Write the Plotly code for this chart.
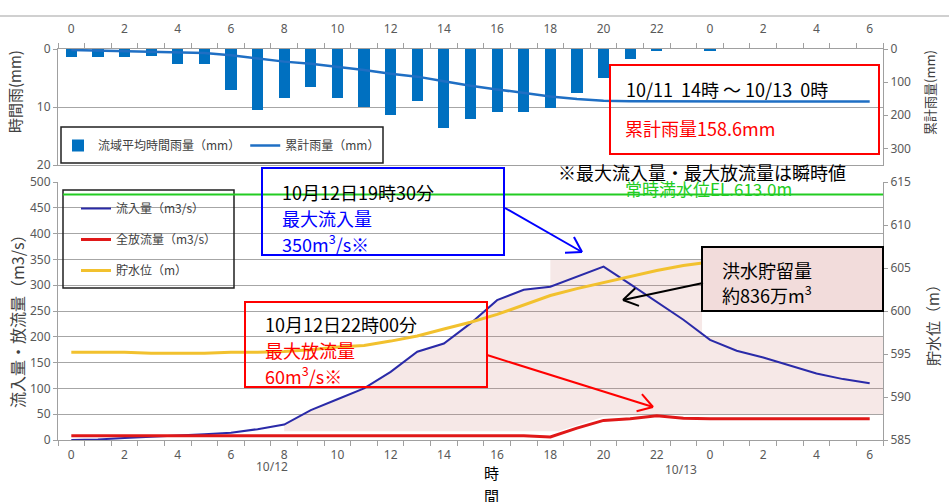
import math
import plotly.graph_objects as go

# ---------------- data ----------------
hours = list(range(31))
hour_labels = ["0", "2", "4", "6", "8", "10", "12", "14", "16", "18", "20", "22", "0", "2", "4", "6"]
label_positions = hours[::2]

rain_mm = [1.3, 1.4, 1.3, 1.2, 2.5, 2.6, 7.0, 10.6, 8.5, 6.5, 8.5, 10.0, 11.4, 8.9, 13.7, 12.0,
           10.8, 10.8, 10.1, 7.5, 5.0, 1.8, 0.3, 0.0, 0.3, 0.0, 0.0, 0.0, 0.0, 0.0, 0.0]
cum_rain_mm = [3, 4.4, 5.7, 6.9, 9.4, 12, 19, 29.6, 38.1, 44.6, 53.1, 63.1, 74.5, 83.4, 97.1, 111,
               122, 133, 143, 150.5, 156, 157.8, 158.3, 158.3, 158.6, 158.6, 158.6, 158.6, 158.6, 158.6, 158.6]

inflow = [0, 1, 4, 6, 9, 11, 14, 21, 30, 58, 79, 100, 132, 171, 187, 226,
          271, 291, 297, 316, 336, 302, 268, 233, 194, 173, 160, 145, 129, 118, 110]
outflow = [8, 8, 8, 8, 8, 8, 8, 8, 8, 8, 8, 8, 8, 8, 8, 8,
           8, 8, 6, 23, 38, 41, 47, 42, 41, 41, 41, 41, 41, 41, 41]
water_level = [595.2, 595.2, 595.2, 595.1, 595.1, 595.1, 595.2, 595.2, 595.3, 595.5, 595.8, 596.0, 596.5, 597.1,
               597.9, 598.7, 599.6, 600.7, 601.8, 602.6, 603.3, 604.0, 604.7, 605.3, 605.7, 605.8, 605.9,
               606.0, 606.1, 606.2, 606.3]

# outline of the shaded flood-storage area (hour, m3/s)
storage_x = [8.0, 8.0, 9, 10, 11, 12, 13, 14, 15, 16, 17, 18, 18, 23.7, 23.7, 30.5, 30.5, 22, 20, 18.3, 8.0]
storage_y = [17, 30, 58, 79, 100, 132, 171, 187, 226, 271, 291, 297, 349, 349, 200, 200, 50, 50, 45, 17, 17]

# ---------------- geometry helpers (pixel -> paper) ----------------
L, R, T, B = 58, 883, 49, 440
W, H = 949, 502


def fx(px):
    return (px - L) / (R - L)


def fy(py):
    return (B - py) / (B - T)


JP = "Noto Sans CJK JP"
NUM = "Noto Sans"
GRID = "#a6a6a6"
AXC = "#a0a0a0"
TICKC = "#595959"

fig = go.Figure()

# storage shading
fig.add_trace(go.Scatter(x=storage_x, y=storage_y, mode="lines", fill="toself",
                         fillcolor="rgba(200,120,110,0.17)", line=dict(width=0),
                         showlegend=False, hoverinfo="skip", xaxis="x", yaxis="y"))
fig.add_trace(go.Scatter(x=hours, y=inflow, mode="lines", name="流入量（m3/s）",
                         line=dict(color="#2a2aa8", width=2), xaxis="x", yaxis="y",
                         legend="legend2", legendgroup="a"))
fig.add_trace(go.Scatter(x=hours, y=outflow, mode="lines", name="全放流量（m3/s）",
                         line=dict(color="#e01818", width=3), xaxis="x", yaxis="y",
                         legend="legend2", legendgroup="b"))
fig.add_trace(go.Scatter(x=hours, y=water_level, mode="lines", name="貯水位（m）",
                         line=dict(color="#f2c12e", width=3), xaxis="x", yaxis="y2",
                         legend="legend2", legendgroup="c"))

# rainfall
fig.add_trace(go.Bar(x=hours, y=rain_mm, name="流域平均時間雨量（mm）", width=0.42,
                     marker=dict(color="#0070c0", line=dict(width=0)),
                     xaxis="x2", yaxis="y3", legend="legend"))
fig.add_trace(go.Scatter(x=hours, y=cum_rain_mm, mode="lines", name="累計雨量（mm）",
                         line=dict(color="#1f6fc4", width=2.5), xaxis="x2", yaxis="y4",
                         legend="legend"))

boundaries = [h - 0.5 for h in range(32)]
xcommon = dict(range=[-0.5, 30.5], tickmode="array", tickvals=label_positions, ticktext=hour_labels,
               ticks="", showline=True, linecolor=AXC, linewidth=1, showgrid=False, zeroline=False,
               tickfont=dict(family=NUM, size=12, color=TICKC),
               minor=dict(tickmode="array", tickvals=boundaries, ticks="outside", ticklen=5,
                          tickcolor=AXC, showgrid=False))

top_dom = [fy(165), 1.0]
bot_dom = [0.0, fy(182)]

fig.update_layout(
    width=W, height=H,
    margin=dict(l=L, r=W - R, t=T, b=H - B, pad=0),
    paper_bgcolor="white", plot_bgcolor="rgba(0,0,0,0)",
    bargap=0,
    xaxis=dict(domain=[0, 1], anchor="y", ticklabelstandoff=4, **xcommon),
    xaxis2=dict(domain=[0, 1], anchor="y3", side="top", mirror=True, ticklabelstandoff=10, **xcommon),
    yaxis=dict(domain=bot_dom, range=[0, 500], tickmode="array", tickvals=list(range(0, 501, 50)),
               ticks="outside", ticklen=4, tickcolor=AXC, showline=True, linecolor=AXC,
               showgrid=True, gridcolor=GRID, gridwidth=1, zeroline=False,
               tickfont=dict(family=NUM, size=12, color=TICKC)),
    yaxis2=dict(overlaying="y", side="right", anchor="x", range=[585, 615], tickmode="array",
                tickvals=[585, 590, 595, 600, 605, 610, 615], ticks="outside", ticklen=4, tickcolor=AXC,
                showline=True, linecolor=AXC, showgrid=False, zeroline=False,
                tickfont=dict(family=NUM, size=12, color=TICKC)),
    yaxis3=dict(domain=top_dom, anchor="x2", range=[20, 0], tickmode="array", tickvals=[0, 10, 20],
                ticks="outside", ticklen=4, tickcolor=AXC, showline=True, linecolor=AXC,
                showgrid=True, gridcolor=GRID, zeroline=False,
                tickfont=dict(family=NUM, size=12, color=TICKC)),
    yaxis4=dict(overlaying="y3", side="right", anchor="x2", range=[350, 0], tickmode="array",
                tickvals=[0, 100, 200, 300], ticks="outside", ticklen=4, tickcolor=AXC,
                showline=True, linecolor=AXC, showgrid=False, zeroline=False,
                tickfont=dict(family=NUM, size=12, color=TICKC)),
    legend=dict(orientation="h", x=fx(58), y=fy(131), xanchor="left", yanchor="top",
                bgcolor="rgba(0,0,0,0)", borderwidth=0,
                font=dict(family=JP, size=12, color="#404040")),
    legend2=dict(orientation="v", x=fx(76), y=fy(194), xanchor="left", yanchor="top",
                 bgcolor="rgba(0,0,0,0)", borderwidth=0, tracegroupgap=12,
                 font=dict(family=JP, size=12, color="#404040")),
    showlegend=True,
)

shapes = []
annotations = []


def line(x0, y0, x1, y1, color, width=2):
    return dict(type="line", xref="paper", yref="paper", x0=fx(x0), y0=fy(y0), x1=fx(x1), y1=fy(y1),
                line=dict(color=color, width=width), layer="above")


def rect(x0, y0, x1, y1, color, width=2, fill="rgba(0,0,0,0)"):
    return dict(type="rect", xref="paper", yref="paper", x0=fx(x0), y0=fy(y0), x1=fx(x1), y1=fy(y1),
                line=dict(color=color, width=width), fillcolor=fill, layer="above")


def arrow(x0, y0, x1, y1, color, width=2, head=17, ang=32):
    out = [line(x0, y0, x1, y1, color, width)]
    dx, dy = x1 - x0, y1 - y0
    d = math.hypot(dx, dy)
    ux, uy = dx / d, dy / d
    for s in (1, -1):
        a = math.radians(ang * s)
        rx = ux * math.cos(a) - uy * math.sin(a)
        ry = ux * math.sin(a) + uy * math.cos(a)
        out.append(line(x1, y1, x1 - head * rx, y1 - head * ry, color, width))
    return out


def txt(x, y, text, color="black", size=18, anchor="left", angle=0, family=JP):
    annotations.append(dict(x=fx(x), y=fy(y), xref="paper", yref="paper", text=text, showarrow=False,
                            xanchor=anchor, yanchor="middle", textangle=angle,
                            font=dict(family=family, size=size, color=color)))


# page top rule
shapes.append(dict(type="line", xref="paper", yref="paper", x0=fx(0), x1=fx(W), y0=fy(16), y1=fy(16),
                   line=dict(color="#d0d0d0", width=2)))
# legend boxes
shapes.append(rect(61, 127, 383, 163, "#202020", 1.5))
shapes.append(rect(63, 190, 234, 288, "#202020", 1.5))
# full water level line
shapes.append(line(63, 194.5, 883, 194.5, "#22cc22", 2))
# boxes
shapes.append(rect(610, 65, 879, 154, "#ff0000", 2))
shapes.append(rect(262, 168, 504, 255, "#0000ff", 2))
shapes.append(rect(245, 302, 487, 387, "#ff0000", 2))
shapes.append(rect(702, 247, 883, 311, "#000000", 2, "#f2dcdb"))
shapes += arrow(505, 208, 582, 252, "#0000ff")
shapes += arrow(487, 355, 653, 407, "#ff0000")
shapes += arrow(703, 283, 623, 300, "#000000")

# texts
txt(624, 89, "10/11  14時 ～ 10/13  0時", "black", 18)
txt(623, 128, "累計雨量158.6mm", "#ff0000", 18)
txt(556, 172, "※最大流入量・最大放流量は瞬時値", "black", 18)
txt(623, 188, "常時満水位EL.613.0m", "#22cc22", 17)
txt(280, 192, "10月12日19時30分", "black", 18)
txt(280, 218, "最大流入量", "#0000ff", 18)
txt(280, 243, "350m<sup>3</sup>/s※", "#0000ff", 18)
txt(263, 324, "10月12日22時00分", "black", 18)
txt(263, 350, "最大放流量", "#ff0000", 18)
txt(263, 375, "60m<sup>3</sup>/s※", "#ff0000", 18)
txt(720, 270, "洪水貯留量", "black", 18)
txt(720, 294, "約836万m<sup>3</sup>", "black", 18)

# axis titles
txt(14, 92, "時間雨(mm)", "#404040", 15, anchor="center", angle=-90)
txt(929, 92, "累計雨量(mm)", "#404040", 13, anchor="center", angle=-90)
txt(17, 318, "流入量・放流量（m3/s）", "#404040", 16, anchor="center", angle=-90)
txt(932, 322, "貯水位（m）", "#404040", 15, anchor="center", angle=-90)

# date / time labels
txt(272, 466, "10/12", TICKC, 12, anchor="center", family=NUM)
txt(681, 469, "10/13", TICKC, 12, anchor="center", family=NUM)
txt(492, 472, "時", "black", 15, anchor="center")
txt(492, 495, "間", "black", 15, anchor="center")

fig.update_layout(shapes=shapes, annotations=annotations)

fig.write_html("out.html", config={"displayModeBar": False},
               post_script="document.body.style.margin='0px';document.body.style.padding='0px';")
